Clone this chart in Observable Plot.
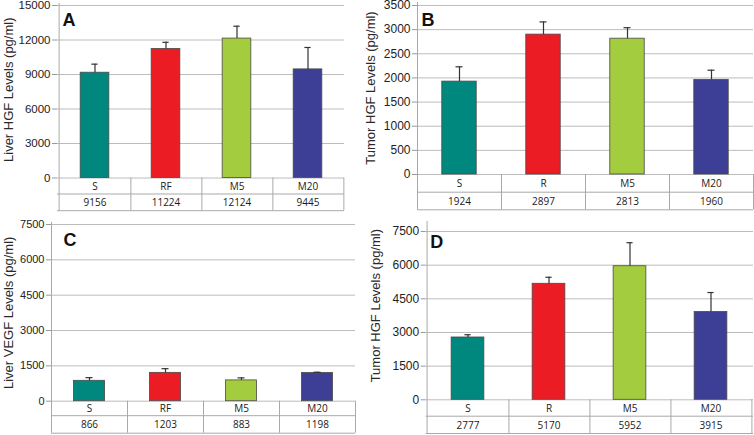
<!DOCTYPE html>
<html>
<head>
<meta charset="utf-8">
<script src="https://cdn.jsdelivr.net/npm/d3@7"></script>
<script src="https://cdn.jsdelivr.net/npm/@observablehq/plot@0.6"></script>
<style>
  html, body { margin: 0; padding: 0; background: #fff; }
  #root { position: relative; width: 754px; height: 435px; overflow: hidden; background: #fff; }
  #root svg { position: absolute; }
</style>
</head>
<body>
<div id="root"></div>
<script>
// ---- data ----
const catsA = ["S", "RF", "M5", "M20"];
const valsA = [9156, 11224, 12124, 9445];
const errsA = [9900, 11800, 13200, 11350];
const ticksA = [0, 3000, 6000, 9000, 12000, 15000];

const catsB = ["S", "R", "M5", "M20"];
const valsB = [1924, 2897, 2813, 1960];
const errsB = [2230, 3160, 3040, 2160];
const ticksB = [0, 500, 1000, 1500, 2000, 2500, 3000, 3500];

const catsC = ["S", "RF", "M5", "M20"];
const valsC = [866, 1203, 883, 1198];
const errsC = [1000, 1380, 990, 1230];
const ticksC = [0, 1500, 3000, 4500, 6000, 7500];

const catsD = ["S", "R", "M5", "M20"];
const valsD = [2777, 5170, 5952, 3915];
const errsD = [2900, 5460, 7000, 4780];
const ticksD = [0, 1500, 3000, 4500, 6000, 7500];

const labelA = "Liver HGF Levels (pg/ml)";
const labelB = "Tumor HGF Levels (pg/ml)";
const labelC = "Liver VEGF Levels (pg/ml)";
const labelD = "Tumor HGF Levels (pg/ml)";

const barColors = ["#00887f", "#ec1c24", "#a3cc3e", "#3d3f97"];

function panel(cfg) {
  const data = cfg.cats.map((c, i) => ({cat: c, val: cfg.vals[i], err: cfg.errs[i]}));
  const yMax = cfg.ticks[cfg.ticks.length - 1];
  const plotW = cfg.width - cfg.ml - cfg.mr;
  const bw = plotW / cfg.cats.length;
  const barInset = bw * 0.295;
  const capInset = (bw - 7) / 2;
  const [r1, r2] = cfg.rows;
  const tableStroke = "#a9a9a9";
  const svg = Plot.plot({
    width: cfg.width,
    height: cfg.height,
    marginLeft: cfg.ml,
    marginRight: cfg.mr,
    marginTop: cfg.mt,
    marginBottom: cfg.mb,
    style: {fontFamily: "'Liberation Sans', Arial, sans-serif", fontSize: cfg.tickFont + "px", color: "#222", background: "transparent", overflow: "visible"},
    x: {domain: cfg.cats, padding: 0, axis: null},
    y: {domain: [0, yMax], axis: null},
    color: {domain: cfg.cats, range: barColors},
    marks: [
      Plot.ruleY(cfg.ticks, {stroke: "#bcbcbc", strokeWidth: 1}),
      Plot.axisY({ticks: cfg.ticks, tickSize: 5, tickPadding: 2, label: null, stroke: "#999", fill: "#222", fontSize: cfg.tickFont, tickFormat: d => String(d)}),
      Plot.barY(data, {x: "cat", y: "val", fill: "cat", stroke: "#4a4a4a", strokeWidth: 0.8, insetLeft: barInset, insetRight: barInset}),
      Plot.ruleX(data, {x: "cat", y1: "val", y2: "err", stroke: "#333", strokeWidth: 1.2}),
      Plot.tickY(data, {x: "cat", y: "err", stroke: "#333", strokeWidth: 1.2, insetLeft: capInset, insetRight: capInset}),
      // data table under the plot
      Plot.ruleY([0], {dy: r1, stroke: tableStroke}),
      Plot.ruleY([0], {dy: r2, stroke: tableStroke}),
      Plot.ruleX(cfg.cats, {x: d => d, dx: bw / 2, y1: 0, y2: 0, insetBottom: -r2, stroke: tableStroke}),
      Plot.ruleX([cfg.cats[0]], {x: d => d, dx: -bw / 2, y1: yMax, y2: 0, insetTop: -cfg.axisExt, insetBottom: -r2, stroke: tableStroke}),
      Plot.text(data, {x: "cat", y: 0, dy: r1 / 2 + 0.5, text: "cat", fontFamily: "'Open Sans', sans-serif", fontSize: 10, fill: "#1a1a1a"}),
      Plot.text(data, {x: "cat", y: 0, dy: (r1 + r2) / 2 + 0.5, text: d => String(d.val), fontFamily: "'Open Sans', sans-serif", fontSize: 10, fill: "#1a1a1a"}),
      // axis title
      Plot.text([cfg.label], {frameAnchor: "left", textAnchor: "middle", lineAnchor: "middle", rotate: -90, dx: cfg.labelDx, dy: cfg.labelDy, fontSize: 13, fill: "#2a2a2a"}),
      // panel letter
      Plot.text([cfg.letter], {frameAnchor: "top-left", dx: cfg.letterDx, dy: cfg.letterDy, textAnchor: "start", lineAnchor: "top", fontWeight: "bold", fontSize: 18, fill: "#111"})
    ]
  });
  svg.style.left = cfg.left + "px";
  svg.style.top = cfg.top + "px";
  document.getElementById("root").appendChild(svg);
}

panel({cats: catsA, vals: valsA, errs: errsA, ticks: ticksA, label: labelA, letter: "A",
  left: 0, top: 0, width: 350, height: 215, ml: 57, mr: 6, mt: 5, mb: 37.5,
  rows: [16, 32.7], tickFont: 11.5, labelDx: -49, labelDy: -2, letterDx: 5, letterDy: 8, axisExt: 2});

panel({cats: catsB, vals: valsB, errs: errsB, ticks: ticksB, label: labelB, letter: "B",
  left: 355, top: 0, width: 399, height: 215, ml: 62, mr: 1, mt: 5, mb: 41,
  rows: [17.7, 35.3], tickFont: 12, labelDx: -47, labelDy: -2, letterDx: 4, letterDy: 8, axisExt: 3});

panel({cats: catsC, vals: valsC, errs: errsC, ticks: ticksC, label: labelC, letter: "C",
  left: 0, top: 215, width: 360, height: 220, ml: 51, mr: 5, mt: 9, mb: 34.3,
  rows: [14.5, 32], tickFont: 11, labelDx: -43, labelDy: 0, letterDx: 12, letterDy: 9, axisExt: 2});

panel({cats: catsD, vals: valsD, errs: errsD, ticks: ticksD, label: labelD, letter: "D",
  left: 360, top: 215, width: 394, height: 220, ml: 65.7, mr: 1, mt: 16, mb: 35.7,
  rows: [16.4, 33.7], tickFont: 12, labelDx: -50, labelDy: -10, letterDx: 4, letterDy: 4, axisExt: 10});
</script>
</body>
</html>
